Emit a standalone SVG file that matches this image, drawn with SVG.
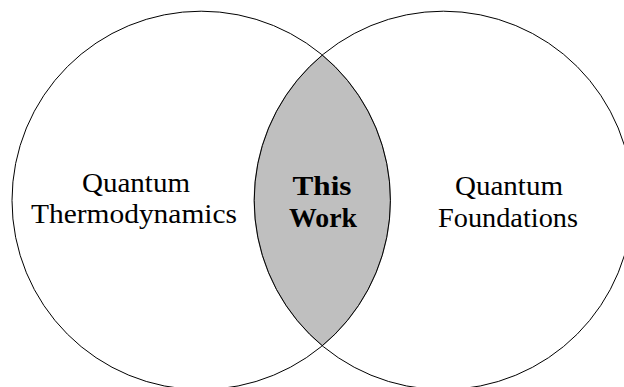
<svg xmlns="http://www.w3.org/2000/svg" width="624" height="387" viewBox="0 0 624 387">
<style>
.circ{fill:none;stroke:#000;stroke-width:1}
.lens{fill:#bfbfbf;stroke:#555;stroke-width:0.6}
.lbl{font-family:"Liberation Serif","DejaVu Serif",serif;font-size:28px;fill:#000;text-anchor:middle}
.bold{font-weight:bold}
</style>
<rect width="624" height="387" fill="#fff"/>
<g id="intersection">
<path class="lens" d="M322.3,55 A189.2,189.2 0 0,0 322.3,345.8 A189.2,189.2 0 0,0 322.3,55 Z"/>
<text class="lbl bold" x="322" y="195" textLength="59" lengthAdjust="spacingAndGlyphs">This</text>
<text class="lbl bold" x="323" y="226.5" textLength="68" lengthAdjust="spacingAndGlyphs">Work</text>
</g>
<g id="thermo">
<circle class="circ" cx="201.2" cy="200.4" r="189.2"/>
<text class="lbl" x="136" y="191.5" textLength="108" lengthAdjust="spacingAndGlyphs">Quantum</text>
<text class="lbl" x="134" y="223" textLength="206" lengthAdjust="spacingAndGlyphs">Thermodynamics</text>
</g>
<g id="foundations">
<circle class="circ" cx="443.4" cy="200.4" r="189.2"/>
<text class="lbl" x="509" y="195" textLength="108" lengthAdjust="spacingAndGlyphs">Quantum</text>
<text class="lbl" x="508" y="226.5" textLength="140" lengthAdjust="spacingAndGlyphs">Foundations</text>
</g>
<g id="connectors"/>
</svg>
